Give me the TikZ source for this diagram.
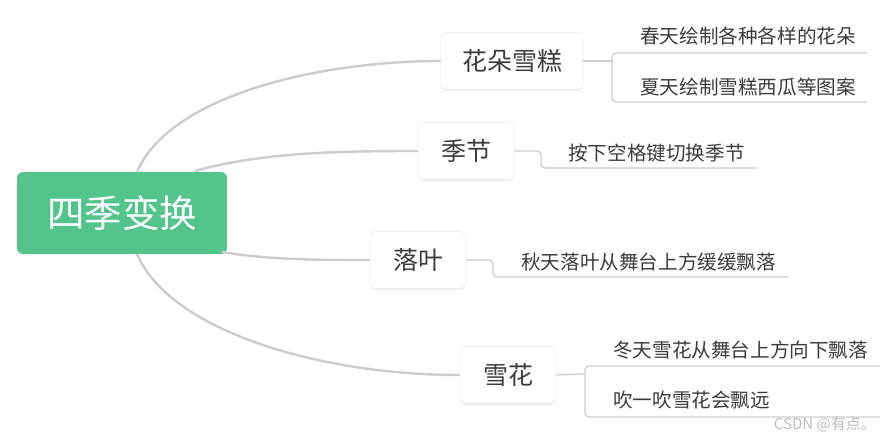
\documentclass[tikz,border=0pt]{standalone}
\usepackage{fontspec}
\setmainfont{Noto Sans CJK SC}
\usetikzlibrary{shadows}
\definecolor{rootgreen}{RGB}{82,196,140}
\definecolor{linegray}{RGB}{204,204,204}
\definecolor{txtgray}{RGB}{60,60,60}
\definecolor{wmgray}{RGB}{190,190,190}
\definecolor{edgegray}{RGB}{238,238,238}
\tikzset{
  rootbox/.style={fill=rootgreen, rounded corners=6pt, text=white, minimum width=210pt, minimum height=82pt, font=\fontsize{37.5}{40}\selectfont, inner sep=0pt},
  topicbox/.style={fill=white, draw=edgegray, line width=0.6pt, rounded corners=6pt, text=txtgray, minimum width=96pt, minimum height=57pt, font=\fontsize{25}{28}\selectfont, inner sep=0pt,
     drop shadow={shadow xshift=0pt, shadow yshift=-1.2pt, opacity=0.10, fill=black}},
  leaftext/.style={anchor=west, inner sep=0pt, text=txtgray, font=\fontsize{19.6}{22}\selectfont},
  mainline/.style={draw=linegray, line width=2.4pt},
  leafline/.style={draw=linegray, line width=1.3pt, rounded corners=4pt},
}
\begin{document}
\begin{tikzpicture}[x=1pt,y=-1pt]
\useasboundingbox (0,0) rectangle (889,439);
% main nodes
\node[rootbox] (root) at (122,213) {四季变换};
\node[topicbox, minimum width=142pt] (hua) at (512,61) {花朵雪糕};
\node[topicbox] (ji) at (466,151) {季节};
\node[topicbox] (luo) at (418,260) {落叶};
\node[topicbox] (xue) at (508,375) {雪花};
% root connectors
\coordinate (r1) at (137,172);
\coordinate (r2) at (195,171);
\coordinate (r3) at (222,252);
\coordinate (r4) at (137,254);
\draw[mainline] (r1) .. controls (170,95) and (320,61) .. (hua.west);
\draw[mainline] (r2) .. controls (260,153) and (330,151) .. (ji.west);
\draw[mainline] (r3) .. controls (270,260) and (320,260) .. (luo.west);
\draw[mainline] (r4) .. controls (170,331) and (320,375) .. (xue.west);
% leaves of hua
\node[leaftext] (h1) at (640,36) {春天绘制各种各样的花朵};
\node[leaftext] (h2) at (640,87) {夏天绘制雪糕西瓜等图案};
\coordinate (hb) at (612,61);
\coordinate (hbt) at (612,53);
\coordinate (hbb) at (612,102);
\coordinate (h1e) at (867,53);
\coordinate (h2e) at (867,102);
\draw[leafline] (hua.east) -- (hb);
\draw[leafline] (h1e) -- (hbt) -- (hbb) -- (h2e);
% leaf of ji
\node[leaftext] (j1) at (568,153) {按下空格键切换季节};
\coordinate (jb) at (541,151);
\coordinate (jbb) at (541,168);
\coordinate (j1e) at (757,168);
\draw[leafline] (ji.east) -- (jb) -- (jbb) -- (j1e);
% leaf of luo
\node[leaftext] (l1) at (521,262) {秋天落叶从舞台上方缓缓飘落};
\coordinate (lb) at (493,260);
\coordinate (lbb) at (493,277);
\coordinate (l1e) at (788,277);
\draw[leafline] (luo.east) -- (lb) -- (lbb) -- (l1e);
% leaves of xue
\node[leaftext] (x1) at (613,350) {冬天雪花从舞台上方向下飘落};
\node[leaftext] (x2) at (613,400) {吹一吹雪花会飘远};
\coordinate (xb) at (585,374);
\coordinate (xbt) at (585,366);
\coordinate (xbb) at (585,417);
\coordinate (x1e) at (880,366);
\coordinate (x2e) at (880,417);
\draw[leafline] (xue.east) -- (xb);
\draw[leafline] (x1e) -- (xbt) -- (xbb) -- (x2e);
% watermark
\node[anchor=east, inner sep=0pt, text=wmgray, font=\fontsize{15}{18}\selectfont] (wm) at (876,424) {CSDN @有点。};
\end{tikzpicture}
\end{document}
